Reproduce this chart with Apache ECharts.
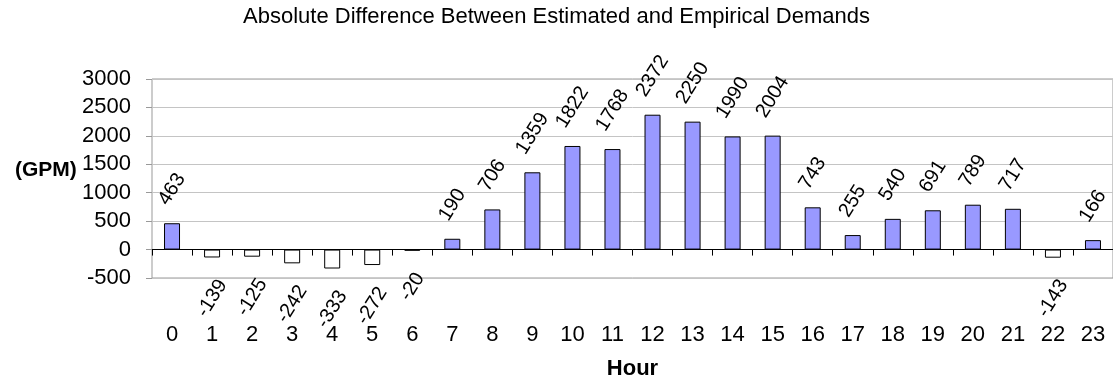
<!DOCTYPE html>
<html>
<head>
<meta charset="utf-8">
<script src="https://cdn.jsdelivr.net/npm/echarts@6/dist/echarts.min.js"></script>
<style>
  html, body { margin: 0; padding: 0; background: #ffffff; }
  #chart { width: 1113px; height: 385px; }
</style>
</head>
<body>
<div id="chart"></div>
<script>
// Hourly difference between estimated and empirical demand (GPM)
const chartTitle = 'Absolute Difference Between Estimated and Empirical Demands';
const yAxisTitle = '(GPM)';
const xAxisTitle = 'Hour';
const hours = ['0', '1', '2', '3', '4', '5', '6', '7', '8', '9', '10', '11',
               '12', '13', '14', '15', '16', '17', '18', '19', '20', '21', '22', '23'];
const demandDiff = [463, -139, -125, -242, -333, -272, -20, 190, 706, 1359, 1822, 1768,
                    2372, 2250, 1990, 2004, 743, 255, 540, 691, 789, 717, -143, 166];
const yMin = -500;
const yMax = 3000;
const yStep = 500;

const FONT = '"Liberation Sans", Arial, sans-serif';
const LABEL_SIZE = 20;
const LABEL_ROTATE = 58;
const LABEL_GAP = 16;

// Rotated value labels sit centred over (or under) their bar, so the
// anchor distance depends on how long each rotated string is.
const measureCtx = document.createElement('canvas').getContext('2d');
measureCtx.font = LABEL_SIZE + 'px "Liberation Sans", Arial';
function rotatedHalfHeight(text) {
  const w = measureCtx.measureText(text).width;
  const h = LABEL_SIZE * 0.72;
  const t = LABEL_ROTATE * Math.PI / 180;
  return (w * Math.sin(t) + h * Math.cos(t)) / 2;
}

const barData = demandDiff.map(function (v) {
  const neg = v < 0;
  return {
    value: v,
    itemStyle: neg ? { color: '#ffffff' } : {},
    label: {
      position: neg ? 'bottom' : 'top',
      distance: LABEL_GAP + rotatedHalfHeight(String(v)) + (neg ? 4 : 0)
    }
  };
});

const chart = echarts.init(document.getElementById('chart'), null, { renderer: 'canvas' });

chart.setOption({
  animation: false,
  backgroundColor: '#ffffff',
  textStyle: { fontFamily: FONT },
  title: {
    text: chartTitle,
    left: 'center',
    top: 1,
    textStyle: { fontFamily: FONT, fontSize: 22, fontWeight: 'normal', color: '#000000' }
  },
  graphic: [{
    type: 'text',
    left: 15,
    top: 160,
    style: { text: yAxisTitle, font: 'bold 21px "Liberation Sans", Arial', fill: '#000000' }
  }],
  grid: {
    left: 152,
    right: -2,
    top: 79,
    bottom: 107,
    show: true,
    borderColor: '#999999',
    borderWidth: 1,
    backgroundColor: 'transparent'
  },
  xAxis: [{
    type: 'category',
    data: hours,
    position: 'bottom',
    axisLine: { show: false, onZero: false },
    axisTick: { show: false },
    axisLabel: { fontFamily: FONT, fontSize: 22, color: '#000000', margin: 46 },
    splitLine: { show: false },
    name: xAxisTitle,
    nameLocation: 'middle',
    nameGap: 80,
    nameTextStyle: { fontFamily: FONT, fontSize: 22, fontWeight: 'bold', color: '#000000' }
  }, {
    // axis line drawn through zero with tick marks between hours
    type: 'category',
    data: hours,
    position: 'bottom',
    axisLine: { show: true, onZero: true, lineStyle: { color: '#000000', width: 1 } },
    axisTick: { show: true, length: 6, lineStyle: { color: '#000000' } },
    axisLabel: { show: false },
    splitLine: { show: false }
  }],
  yAxis: {
    type: 'value',
    min: yMin,
    max: yMax,
    interval: yStep,
    axisLine: { show: false },
    axisTick: { show: true, length: 6, lineStyle: { color: '#999999' } },
    axisLabel: {
      fontFamily: FONT, fontSize: 22, color: '#000000', margin: 21,
      formatter: function (v) { return String(v); }
    },
    splitLine: { show: true, lineStyle: { color: '#c4c4c4', width: 1 } }
  },
  series: [{
    type: 'bar',
    xAxisIndex: 0,
    yAxisIndex: 0,
    data: barData,
    barWidth: 16,
    itemStyle: { color: '#9999ff', borderColor: '#000000', borderWidth: 1 },
    label: {
      show: true,
      rotate: LABEL_ROTATE,
      align: 'center',
      verticalAlign: 'middle',
      fontFamily: FONT,
      fontSize: LABEL_SIZE,
      color: '#000000'
    },
    z: 3
  }]
});
</script>
</body>
</html>
